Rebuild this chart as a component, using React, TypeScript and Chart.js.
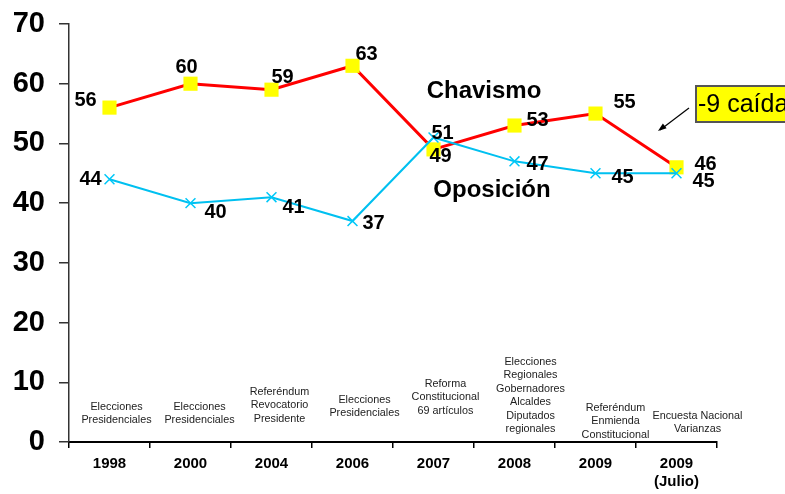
import React, { useEffect, useRef } from "react";
import { Chart, registerables } from "chart.js";

Chart.register(...registerables);

const years: (string | string[])[] = ["1998", "2000", "2004", "2006", "2007", "2008", "2009", ["2009", "(Julio)"]];
const chavismo = [56, 60, 59, 63, 49, 53, 55, 46];
const oposicion = [44, 40, 41, 37, 51, 47, 45, 45];
const yTicks = [0, 10, 20, 30, 40, 50, 60, 70];
const events: string[][] = [
  ["Elecciones", "Presidenciales"],
  ["Elecciones", "Presidenciales"],
  ["Referéndum", "Revocatorio", "Presidente"],
  ["Elecciones", "Presidenciales"],
  ["Reforma", "Constitucional", "69 artículos"],
  ["Elecciones", "Regionales", "Gobernadores", "Alcaldes", "Diputados", "regionales"],
  ["Referéndum", "Enmienda", "Constitucional"],
  ["Encuesta Nacional", "Varianzas"],
];
const seriesNames = ["Chavismo", "Oposición"];
const annotationText = "-9 caída";

// label placement offsets (pixels) relative to each point
const redOffsets = [[-24, -7], [-4, -16], [11, -12], [14, -11], [7, 7], [23, -5], [29, -11], [29, -3]];
const blueOffsets = [[-19, 0], [25, 9], [22, 10], [21, 2], [9, -4], [23, 3], [27, 4], [27, 8]];
const eventTopOffsets = [-35, -35, -50, -42, -58, -80, -34, -26];
const eventDx = [7, 9, 8, 12, 12, 16, 20, 21];

const FONT = "'Liberation Sans', Arial, sans-serif";

const overlay = {
  id: "overlay",
  afterDatasetsDraw(chart: any) {
    const ctx = chart.ctx;
    const xs = chart.scales.x;
    const ys = chart.scales.y;
    const area = chart.chartArea;
    ctx.save();
    // data labels
    ctx.fillStyle = "#000";
    ctx.font = `bold 20px ${FONT}`;
    ctx.textAlign = "center";
    ctx.textBaseline = "middle";
    chavismo.forEach((v, i) => {
      const x = xs.getPixelForValue(i);
      const y = ys.getPixelForValue(v);
      ctx.fillText(String(v), x + redOffsets[i][0], y + redOffsets[i][1]);
    });
    oposicion.forEach((v, i) => {
      const x = xs.getPixelForValue(i);
      const y = ys.getPixelForValue(v);
      ctx.fillText(String(v), x + blueOffsets[i][0], y + blueOffsets[i][1]);
    });
    // series names
    ctx.font = `bold 24px ${FONT}`;
    const midX = (xs.getPixelForValue(4) + xs.getPixelForValue(5)) / 2;
    ctx.fillText(seriesNames[0], midX + 10, ys.getPixelForValue(58.8));
    ctx.fillText(seriesNames[1], midX + 18, ys.getPixelForValue(42.2));
    // events
    ctx.font = `10.8px ${FONT}`;
    ctx.fillStyle = "#222";
    events.forEach((lines, i) => {
      const x = xs.getPixelForValue(i) + eventDx[i];
      const top = area.bottom + eventTopOffsets[i];
      lines.forEach((ln, j) => ctx.fillText(ln, x, top + j * 13.4));
    });
    // annotation box
    ctx.fillStyle = "#FFFF00";
    ctx.strokeStyle = "#555";
    ctx.lineWidth = 2;
    ctx.fillRect(696, 86, 120, 36);
    ctx.strokeRect(696, 86, 120, 36);
    ctx.fillStyle = "#000";
    ctx.font = `25px ${FONT}`;
    ctx.textAlign = "left";
    ctx.fillText(annotationText, 698, 105);
    // arrow
    ctx.strokeStyle = "#000";
    ctx.lineWidth = 1.2;
    ctx.beginPath();
    ctx.moveTo(689, 108);
    ctx.lineTo(660, 130);
    ctx.stroke();
    ctx.beginPath();
    const ang = Math.atan2(130 - 108, 660 - 689);
    ctx.moveTo(658, 131);
    ctx.lineTo(658 - 9 * Math.cos(ang - 0.35), 131 - 9 * Math.sin(ang - 0.35));
    ctx.lineTo(658 - 9 * Math.cos(ang + 0.35), 131 - 9 * Math.sin(ang + 0.35));
    ctx.closePath();
    ctx.fill();
    ctx.restore();
  },
};

export default function App() {
  const ref = useRef<HTMLCanvasElement>(null);
  useEffect(() => {
    const chart = new Chart(ref.current!, {
      type: "line",
      data: {
        labels: years,
        datasets: [
          {
            label: seriesNames[1],
            data: oposicion,
            borderColor: "#00C0F0",
            backgroundColor: "#00C0F0",
            borderWidth: 2,
            pointStyle: "crossRot",
            pointRadius: 7,
            pointBorderWidth: 1.5,
            pointBorderColor: "#00C8F8",
            order: 0,
          },
          {
            label: seriesNames[0],
            data: chavismo,
            borderColor: "#FF0000",
            backgroundColor: "#FFFF00",
            borderWidth: 3,
            pointStyle: "rect",
            pointRadius: 10,
            pointBorderWidth: 0,
            pointBackgroundColor: "#FFFF00",
            order: 1,
          },
        ],
      },
      options: {
        animation: false,
        responsive: false,
        layout: { padding: { left: 0, right: 68, top: 24, bottom: 0 } },
        plugins: { legend: { display: false }, tooltip: { enabled: false } },
        scales: {
          x: {
            offset: true,
            grid: { offset: true, drawOnChartArea: false, tickLength: 6, color: "#000", lineWidth: 1.5 },
            border: { color: "#000", width: 2 },
            ticks: {
              color: "#000",
              font: { family: FONT, size: 15, weight: "bold" },
              padding: 7,
              maxRotation: 0,
              autoSkip: false,
            },
            afterFit: (s: any) => { s.height = 52; s.paddingLeft = 0; s.paddingRight = 0; },
          },
          y: {
            min: 0,
            max: 70,
            afterBuildTicks: (s: any) => { s.ticks = yTicks.map((v) => ({ value: v })); },
            grid: { drawOnChartArea: false, tickLength: 10, color: "#333", lineWidth: 1.5 },
            border: { color: "#333", width: 1.5 },
            ticks: {
              color: "#000",
              font: { family: FONT, size: 29, weight: "bold" },
              padding: 14,
            },
            afterFit: (s: any) => { s.width = 69; s.paddingTop = 0; s.paddingBottom = 0; },
          },
        },
      },
      plugins: [overlay],
    });
    return () => chart.destroy();
  }, []);
  return (
    <div style={{ position: "fixed", left: 0, top: 0, width: 785, height: 494, background: "#fff" }}>
      <canvas ref={ref} width={785} height={494} />
    </div>
  );
}
